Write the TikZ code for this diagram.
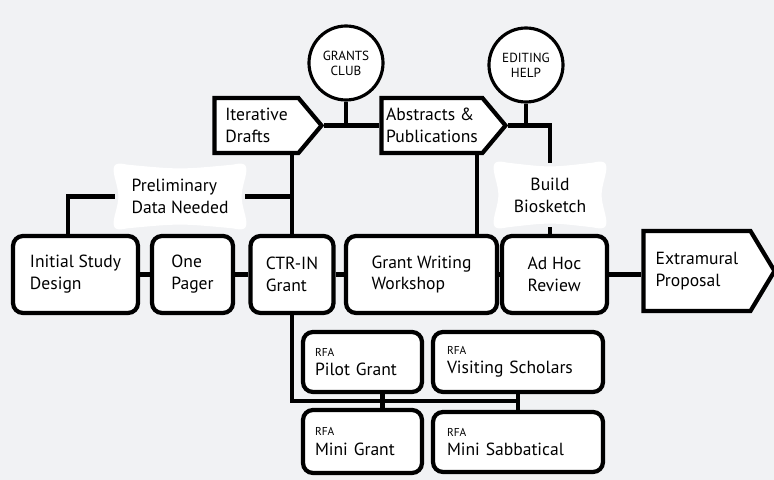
\documentclass[tikz,border=0pt]{standalone}
\usepackage{fontspec}
\setmainfont{PT Sans}
\usepackage{xcolor}
\usetikzlibrary{shapes.symbols,backgrounds}
\definecolor{bg}{HTML}{F1F2F4}
\newcommand{\rfatitle}[1]{{\fontsize{6.5}{7}\selectfont RFA}\\#1}

\begin{document}
\begin{tikzpicture}[x=0.2mm,y=-0.2mm,
	box/.style={draw,line width=2.4pt,rounded corners=2mm,fill=white,align=left,inner sep=0pt,minimum height=15.4mm,font=\fontsize{10}{12.5}\selectfont},
	tag/.style={draw,line width=2.4pt,fill=white,signal,signal to=east,align=left,inner sep=0pt,font=\fontsize{10}{12.5}\selectfont},
	bubble/.style={draw,circle,line width=1.8pt,fill=white,minimum size=14.8mm,inner sep=0pt,align=center,font=\fontsize{7.5}{8.5}\selectfont},
	note/.style={inner sep=0pt,font=\fontsize{10}{12.5}\selectfont},
	rfa/.style={draw,line width=2.4pt,rounded corners=2mm,fill=white,align=left,minimum height=12mm,font=\fontsize{10}{11}\selectfont},
	link/.style={line width=2.4pt}]
	\useasboundingbox (0,0) rectangle (774,480);

	% main row
	\node [box,minimum width=25mm] (initial) at (75.5,274.5) {Initial Study\\Design};
	\node [box,minimum width=16.2mm] (onepager) at (192.5,274.5) {One\\Pager};
	\node [box,minimum width=16.6mm] (ctrin) at (292,274.5) {CTR-IN\\Grant};
	\node [box,minimum width=30.2mm] (workshop) at (421.5,274.5) {Grant Writing\\Workshop};
	\node [box,minimum width=21mm] (adhoc) at (554.5,274.5) {Ad Hoc\\Review};
	\node [tag,minimum width=26.2mm,minimum height=16mm,signal pointer angle=118] (extramural) at (697,271) {Extramural\\Proposal};

	% top row
	\node [tag,minimum width=21.4mm,minimum height=11mm,signal pointer angle=100] (drafts) at (256.5,125.5) {Iterative\\Drafts};
	\node [tag,minimum width=24.8mm,minimum height=11mm,signal pointer angle=100] (abstracts) at (432,125.5) {Abstracts \&\\Publications};
	\node [bubble] (club) at (346,63) {GRANTS\\CLUB};
	\node [bubble] (editing) at (526,65) {EDITING\\HELP};
	\node [note,align=left,minimum width=26mm,minimum height=12.6mm] (prelim) at (180,196.5) {Preliminary\\Data Needed};
	\node [note,align=center,minimum width=22mm,minimum height=12.8mm] (biosk) at (550,195) {Build\\Biosketch};

	% funding calls
	\node [rfa,text width=19mm,inner xsep=2.4mm] (pilot) at (362.5,362) {\rfatitle{Pilot Grant}};
	\node [rfa,text width=28.4mm,inner xsep=2.8mm] (visiting) at (518,362) {\rfatitle{Visiting Scholars}};
	\node [rfa,text width=19mm,inner xsep=2.4mm,minimum height=12.6mm] (minigrant) at (362.5,441.5) {\rfatitle{Mini Grant}};
	\node [rfa,text width=28.4mm,inner xsep=2.8mm] (minisab) at (518,442) {\rfatitle{Mini Sabbatical}};

	\draw [link] (initial) -- (onepager);
	\draw [link] (onepager) -- (ctrin);
	\draw [link] (ctrin) -- (workshop);
	\draw [link] (workshop) -- (adhoc);
	\draw [link] (adhoc.east) -- (adhoc.east -| extramural.west);
	\draw [link] (drafts.east) -- (drafts.east -| abstracts.west);
	\draw [link] (club) -- (club |- drafts.east);
	\draw [link] (abstracts.east) -| (biosk);
	\draw [link] (editing) -- (editing |- abstracts.east);
	\draw [link] (biosk) -- (biosk |- adhoc.north);
	\draw [link] (ctrin.north |- drafts.south) -- (ctrin);
	\draw [link] ([xshift=9mm]abstracts.south) -- ([xshift=9mm]abstracts.south |- workshop.north);
	\draw [link] (prelim) -- (prelim -| ctrin);
	\draw [link] (prelim) -| ([xshift=-1.5mm]initial.north);
	\coordinate (bus) at (518,401);
	\draw [link] (ctrin) |- (bus);
	\draw [link] ([xshift=4mm]pilot.south) -- ([xshift=4mm]minigrant.north);
	\draw [link] (visiting) -- (minisab);

	\begin{pgfonlayer}{background}
	\fill [bg] (0,0) rectangle (774,480);
	\foreach \n in {prelim,biosk}
		\fill [white] ([xshift=2.5mm]\n.north west) .. controls ([yshift=-1mm]\n.north) .. ([xshift=-2.5mm]\n.north east)
			.. controls ([shift={(0mm,0.6mm)}]\n.north east) and ([shift={(0.6mm,0mm)}]\n.north east) .. ([yshift=-2.5mm]\n.north east)
			.. controls ([xshift=-1mm]\n.east) .. ([yshift=2.5mm]\n.south east)
			.. controls ([shift={(0.6mm,0mm)}]\n.south east) and ([shift={(0mm,-0.6mm)}]\n.south east) .. ([xshift=-2.5mm]\n.south east)
			.. controls ([yshift=1mm]\n.south) .. ([xshift=2.5mm]\n.south west)
			.. controls ([shift={(0mm,-0.6mm)}]\n.south west) and ([shift={(-0.6mm,0mm)}]\n.south west) .. ([yshift=2.5mm]\n.south west)
			.. controls ([xshift=1mm]\n.west) .. ([yshift=-2.5mm]\n.north west)
			.. controls ([shift={(-0.6mm,0mm)}]\n.north west) and ([shift={(0mm,0.6mm)}]\n.north west) .. cycle;
	\end{pgfonlayer}
\end{tikzpicture}
\end{document}
